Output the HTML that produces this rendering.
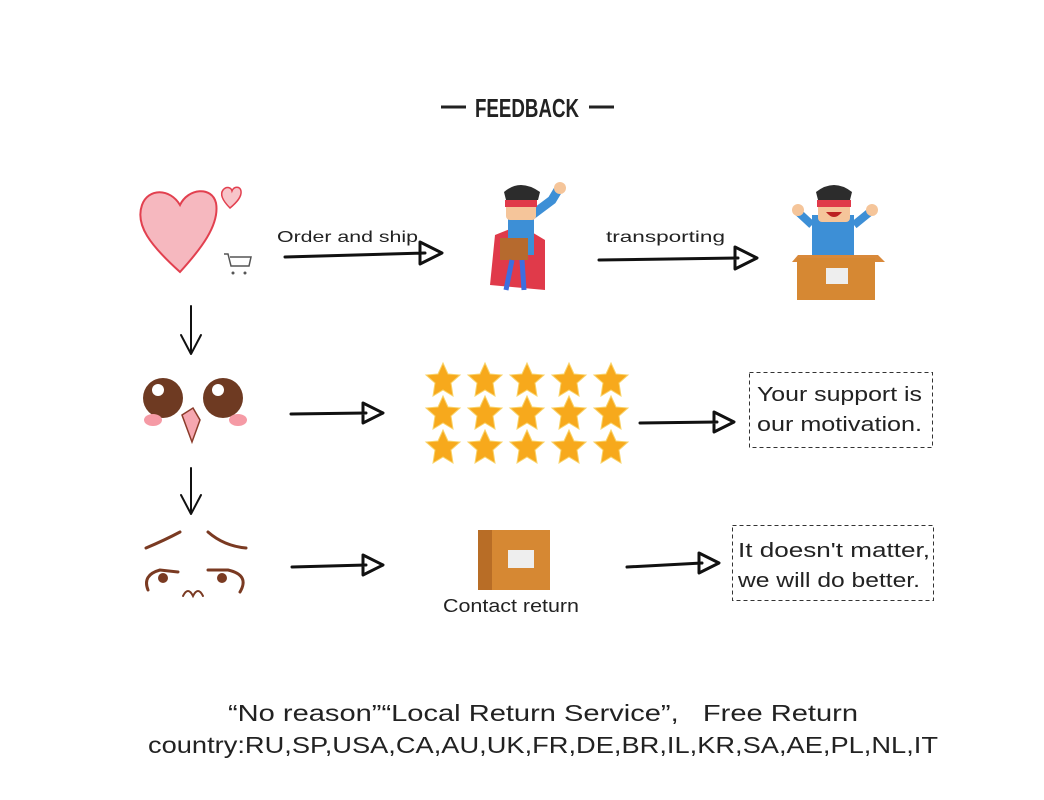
<!DOCTYPE html>
<html><head><meta charset="utf-8"><style>
body{margin:0;background:#fff;width:1044px;height:800px;overflow:hidden}
svg{display:block}
text{font-family:"Liberation Sans",sans-serif;fill:#222}
</style></head><body>
<svg width="1044" height="800" viewBox="0 0 1044 800" xmlns="http://www.w3.org/2000/svg">
<defs>
<g id="star"><polygon points="0,-17 5,-6 17,-5 8,3 10,16 0,10 -10,16 -8,3 -17,-5 -5,-6" fill="#f7a91c" stroke="#f9d36a" stroke-width="1"/></g>
</defs>
<line x1="441" y1="107" x2="466" y2="107" stroke="#222" stroke-width="3"/>
<line x1="589" y1="107" x2="614" y2="107" stroke="#222" stroke-width="3"/>
<text x="527" y="117" font-size="26" font-weight="bold" text-anchor="middle" textLength="104" lengthAdjust="spacingAndGlyphs">FEEDBACK</text>
<path d="M180,272 C150,245 135,225 142,205 C148,188 170,188 180,205 C188,188 212,186 216,203 C220,225 200,250 180,272Z" fill="#f6b8bf" stroke="#e2404f" stroke-width="2"/>
<path d="M230,208 C222,200 220,194 223,190 C226,186 231,187 232,191 C234,186 240,186 241,191 C242,197 236,203 230,208Z" fill="#f7c5ca" stroke="#e2404f" stroke-width="1.5"/>
<path d="M224,254 h4 l3,12 h18 l2,-9 h-21" fill="none" stroke="#555" stroke-width="1.5"/>
<circle cx="233" cy="273" r="1.5" fill="#555"/><circle cx="245" cy="273" r="1.5" fill="#555"/>
<g fill="none" stroke="#111" stroke-width="3" stroke-linecap="round" stroke-linejoin="round">
<path d="M285,257 L425,253 M420,242 L442,253 L420,264 Z"/>
<path d="M599,260 L738,258 M735,247 L757,258 L735,269 Z"/>
<path d="M291,414 L366,413 M363,403 L383,413 L363,423 Z"/>
<path d="M640,423 L717,422 M714,412 L734,422 L714,432 Z"/>
<path d="M292,567 L366,565 M363,555 L383,565 L363,575 Z"/>
<path d="M627,567 L702,563 M699,553 L719,563 L699,573 Z"/>
<path d="M191,306 L191,352 M181,335 L191,354 L201,335" stroke-width="2"/>
<path d="M191,468 L191,512 M181,495 L191,514 L201,495" stroke-width="2"/>
</g>
<text x="277" y="242" font-size="16" textLength="141" lengthAdjust="spacingAndGlyphs">Order and ship</text>
<text x="606" y="242" font-size="16" textLength="119" lengthAdjust="spacingAndGlyphs">transporting</text>
<path d="M495,235 L520,225 L545,240 L545,290 L490,285 Z" fill="#e03a4a"/>
<rect x="508" y="210" width="26" height="45" fill="#3d8fd6"/>
<path d="M532,215 L552,200 L558,190" stroke="#3d8fd6" stroke-width="9" fill="none"/>
<circle cx="560" cy="188" r="6" fill="#f5c59a"/>
<rect x="506" y="190" width="30" height="30" rx="4" fill="#f5c59a"/>
<path d="M504,192 Q520,178 540,192 L538,200 L506,200Z" fill="#2c2c2c"/>
<rect x="505" y="200" width="32" height="7" fill="#e03a4a"/>
<rect x="500" y="238" width="28" height="22" fill="#b66a2e"/>
<path d="M512,260 L506,290 M522,260 L524,290" stroke="#3d6ee0" stroke-width="5"/>
<rect x="812" y="215" width="42" height="40" fill="#3d8fd6"/>
<path d="M812,225 L798,212 M854,225 L870,212" stroke="#3d8fd6" stroke-width="8"/>
<circle cx="798" cy="210" r="6" fill="#f5c59a"/><circle cx="872" cy="210" r="6" fill="#f5c59a"/>
<rect x="818" y="190" width="32" height="32" rx="4" fill="#f5c59a"/>
<path d="M816,192 Q834,178 852,192 L850,200 L818,200Z" fill="#2c2c2c"/>
<rect x="817" y="200" width="34" height="7" fill="#e03a4a"/>
<path d="M826,212 Q834,222 842,212Z" fill="#b22"/>
<path d="M798,255 L878,255 L885,262 L792,262Z" fill="#d9893a"/>
<rect x="797" y="258" width="78" height="42" fill="#d68833"/>
<rect x="826" y="268" width="22" height="16" fill="#eee"/>
<circle cx="163" cy="398" r="20" fill="#6e3a22"/><circle cx="223" cy="398" r="20" fill="#6e3a22"/>
<circle cx="158" cy="390" r="6" fill="#fff"/><circle cx="218" cy="390" r="6" fill="#fff"/>
<ellipse cx="153" cy="420" rx="9" ry="6" fill="#f59aa5"/><ellipse cx="238" cy="420" rx="9" ry="6" fill="#f59aa5"/>
<path d="M182,415 L193,408 L200,420 L192,442 Z" fill="#f6a7b0" stroke="#8b3b2a" stroke-width="1.5"/>
<g fill="none" stroke="#7a3a22" stroke-width="3" stroke-linecap="round">
<path d="M146,548 Q165,540 180,532"/><path d="M208,532 Q224,546 246,548"/>
<path d="M148,590 Q142,575 160,570 L178,572"/><path d="M208,570 L228,570 Q250,575 240,592"/>
<path d="M183,596 Q188,586 193,596 Q198,586 203,596" stroke-width="2"/>
</g>
<circle cx="163" cy="578" r="5" fill="#7a3a22"/><circle cx="222" cy="578" r="5" fill="#7a3a22"/>
<g>
<use href="#star" x="443" y="380"/><use href="#star" x="485" y="380"/><use href="#star" x="527" y="380"/><use href="#star" x="569" y="380"/><use href="#star" x="611" y="380"/>
<use href="#star" x="443" y="413"/><use href="#star" x="485" y="413"/><use href="#star" x="527" y="413"/><use href="#star" x="569" y="413"/><use href="#star" x="611" y="413"/>
<use href="#star" x="443" y="447"/><use href="#star" x="485" y="447"/><use href="#star" x="527" y="447"/><use href="#star" x="569" y="447"/><use href="#star" x="611" y="447"/>
</g>
<rect x="478" y="530" width="72" height="60" fill="#d68833"/>
<rect x="478" y="530" width="14" height="60" fill="#b86d26"/>
<rect x="508" y="550" width="26" height="18" fill="#eee"/>
<text x="443" y="612" font-size="18" textLength="136" lengthAdjust="spacingAndGlyphs">Contact return</text>
<rect x="749.5" y="372.5" width="183" height="75" fill="none" stroke="#333" stroke-dasharray="4,3"/>
<text x="757" y="401" font-size="20" textLength="165" lengthAdjust="spacingAndGlyphs">Your support is</text>
<text x="757" y="431" font-size="20" textLength="165" lengthAdjust="spacingAndGlyphs">our motivation.</text>
<rect x="732.5" y="525.5" width="201" height="75" fill="none" stroke="#333" stroke-dasharray="4,3"/>
<text x="738" y="557" font-size="20" textLength="192" lengthAdjust="spacingAndGlyphs">It doesn't matter,</text>
<text x="738" y="587" font-size="20" textLength="182" lengthAdjust="spacingAndGlyphs">we will do better.</text>
<text x="228" y="721" font-size="23" textLength="630" lengthAdjust="spacingAndGlyphs" xml:space="preserve">“No reason”“Local Return Service”,   Free Return</text>
<text x="543" y="753" font-size="23" text-anchor="middle" textLength="790" lengthAdjust="spacingAndGlyphs">country:RU,SP,USA,CA,AU,UK,FR,DE,BR,IL,KR,SA,AE,PL,NL,IT</text>
</svg>
</body></html>
